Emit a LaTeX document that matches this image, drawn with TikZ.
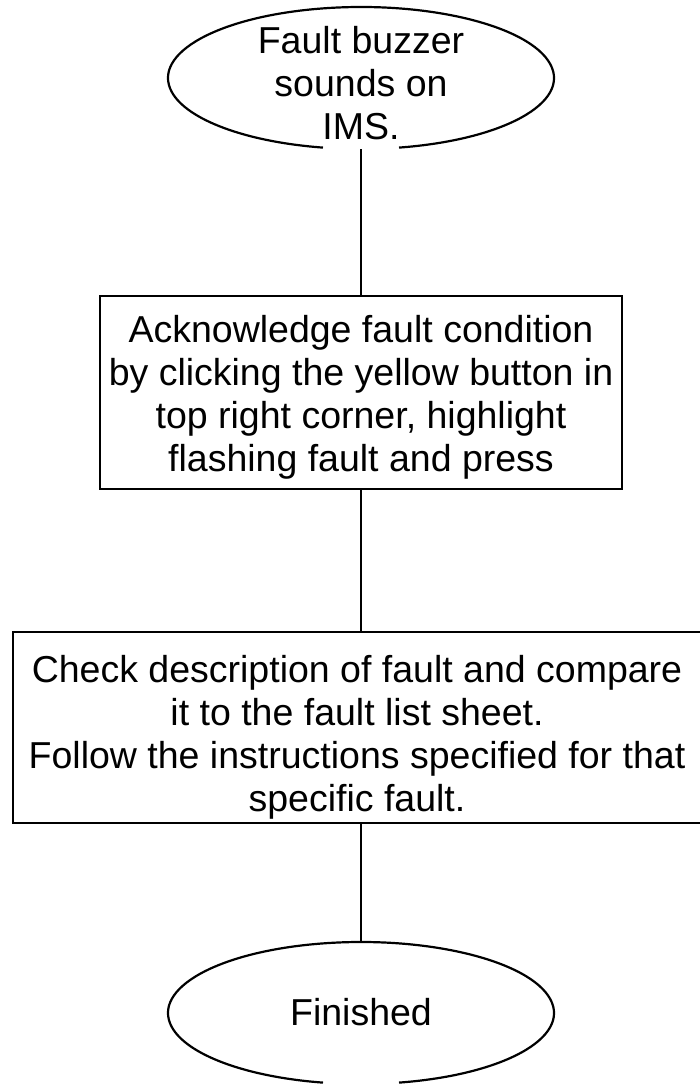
\documentclass[tikz,border=0pt]{standalone}
\usepackage{fontspec}
\setmainfont{Liberation Sans}
\usetikzlibrary{shapes.geometric}
\begin{document}
\begin{tikzpicture}[x=1pt,y=-1pt,
  txt/.style={inner sep=0pt, align=center, font=\fontsize{37.5}{43.2}\selectfont, anchor=north},
  boxn/.style={draw, line width=1.8pt, inner sep=0pt},
  oval/.style={ellipse, inner sep=0pt, minimum width=386pt, minimum height=142pt},
  conn/.style={line width=1.4pt},
  eline/.style={line width=2.2pt}]
\useasboundingbox (0,0) rectangle (699,1086);

% top ellipse
\node[oval] (e1) at (361,78) {};
\draw[eline] (e1.center) ++(281.36:193pt and 71pt) arc[start angle=281.36, end angle=618.64, x radius=193pt, y radius=71pt];
\node[txt] (t1) at (361,22.8) {\strut Fault buzzer\\\strut sounds on\\\strut IMS.};

% box 2
\node[boxn, minimum width=522pt, minimum height=193pt] (b2) at (361,392.5) {};
\node[txt] (t2) at (361,311.8) {\strut Acknowledge fault condition\\\strut by clicking the yellow button in\\\strut top right corner, highlight\\\strut flashing fault and press};

% box 3
\node[boxn, minimum width=688pt, minimum height=191pt] (b3) at (357,727.5) {};
\node[txt] (t3) at (357,651.8) {\strut Check description of fault and compare\\\strut it to the fault list sheet.\\\strut Follow the instructions specified for that\\\strut specific fault.};

% bottom ellipse
\node[oval] (e2) at (361,1013) {};
\draw[eline] (e2.center) ++(281.36:193pt and 71pt) arc[start angle=281.36, end angle=618.64, x radius=193pt, y radius=71pt];
\node[txt] (t4) at (361,994.8) {\strut Finished};

% connectors
\draw[conn] (e1.south) -- (b2.north);
\draw[conn] (b2.south) -- (b2.south |- b3.north);
\draw[conn] (e2.north |- b3.south) -- (e2.north);
\end{tikzpicture}
\end{document}
